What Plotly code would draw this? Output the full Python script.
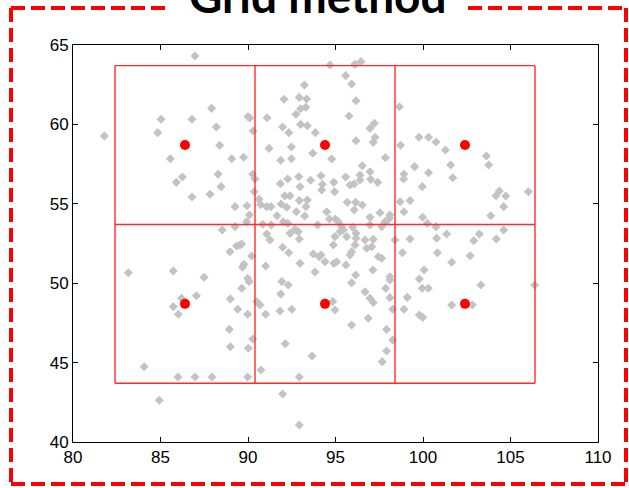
import plotly.graph_objects as go

# ---------------- data ----------------
pts_x = [
    86.97, 94.69, 81.79, 85.03, 84.84, 86.8, 87.92, 88.19, 88.38, 85.56, 89.07, 89.75, 90.0, 90.1, 90.29,
    86.25, 85.9, 88.29, 88.46, 86.8, 87.83, 90.27, 90.4, 89.26, 89.94, 90.63, 90.36, 90.08, 88.53, 89.26,
    89.92, 92.06, 93.22, 92.93, 93.35, 93.01, 93.3, 92.74, 93.01, 93.39, 91.09, 91.98, 92.33, 93.85, 91.2,
    92.48, 91.87, 92.48, 93.7, 94.78, 91.85, 92.27, 92.9, 92.97, 93.58, 94.17, 94.25, 94.21, 94.95, 92.1,
    92.4, 92.93, 93.39, 93.31, 90.72, 91.07, 91.31, 91.89, 92.21, 92.76, 93.24, 94.5, 94.65, 94.99, 91.66,
    93.98, 90.84, 91.33, 92.02, 92.27, 91.07, 91.26, 92.4, 92.69, 92.87, 92.93, 94.97, 94.9,
    96.46, 96.11, 95.58, 95.92, 96.17, 95.77, 98.65, 97.22, 96.97, 97.26, 97.16, 96.17, 99.77, 100.32, 100.74,
    101.28, 98.72, 97.85, 96.53, 96.97, 95.58, 96.4, 96.4, 97.01, 97.41, 95.83, 96.06, 98.91, 98.89, 99.52,
    100.32, 101.7, 101.58, 103.62, 103.75, 99.96, 104.17, 104.36, 104.73, 104.61, 106.02, 103.87, 95.67, 96.15, 96.53,
    96.07, 98.69, 99.26, 98.91, 98.11, 98.07, 97.54, 96.97, 97.96, 97.83, 99.98, 100.25, 100.74, 101.35, 103.22,
    104.61, 104.19, 99.26, 100.78, 95.16, 95.35, 95.45, 95.26, 95.64, 96.17, 96.17, 96.69, 97.16, 97.64, 96.97,
    95.98,
    88.97, 89.54, 89.64, 89.35, 90.21, 91.98, 92.33, 92.97, 91.01, 89.69, 89.77, 93.83, 93.73, 94.07, 94.4,
    94.17, 94.88, 94.91, 83.16, 85.73, 87.49, 89.98, 90.06, 89.64, 91.93, 92.3, 91.87, 87.05, 86.21, 85.73,
    86.02, 88.99, 89.41, 89.98, 90.5, 90.69, 91.01, 91.83, 92.5, 94.84, 94.97, 88.93, 88.99, 90.02, 90.27,
    92.13, 93.66, 90.74, 84.07, 86.0, 86.97, 87.94, 89.98, 92.93, 84.93, 91.98, 92.93,
    96.11, 95.92, 95.83, 95.07, 95.6, 96.78, 97.07, 97.45, 97.64, 97.13, 96.15, 95.92, 96.69, 96.97, 97.16,
    96.87, 95.92, 98.11, 98.11, 97.87, 98.11, 98.27, 97.92, 98.27, 97.92, 97.67, 98.4, 98.82, 100.06, 99.79,
    99.96, 100.3, 99.1, 98.91, 99.79, 99.98, 100.82, 101.64, 102.69, 102.9, 103.31, 101.64, 102.82, 106.38,
]
pts_y = [
    64.31, 63.74, 59.27, 60.32, 59.48, 60.32, 61.01, 59.84, 58.68, 57.84, 57.84, 57.93, 60.49, 60.4, 59.58,
    56.69, 56.35, 56.86, 56.08, 55.43, 55.6, 56.86, 56.56, 54.82, 54.88, 55.28, 55.76, 54.29, 53.35, 53.56,
    53.87, 61.58, 62.48, 61.7, 61.6, 60.99, 61.08, 60.64, 60.0, 59.92, 60.42, 59.84, 59.48, 59.48, 58.49,
    58.58, 57.74, 57.84, 58.18, 57.82, 56.27, 56.56, 56.71, 56.08, 56.48, 56.77, 56.23, 55.87, 55.76, 55.5,
    55.5, 55.2, 55.24, 54.82, 54.94, 54.82, 54.82, 54.99, 54.78, 54.5, 54.23, 54.5, 54.04, 54.04, 54.25,
    53.67, 53.71, 53.67, 53.87, 53.77, 53.1, 52.72, 53.14, 53.39, 53.24, 52.78, 52.93, 56.35,
    63.95, 63.78, 63.07, 62.54, 61.49, 60.53, 61.11, 60.07, 59.75, 59.19, 58.87, 58.97, 59.19, 59.19, 58.89,
    58.39, 58.68, 57.9, 57.4, 57.02, 56.69, 56.81, 56.5, 56.54, 56.35, 56.18, 56.25, 56.88, 56.56, 57.34,
    56.96, 56.64, 57.44, 58.01, 57.44, 56.08, 55.51, 55.81, 55.49, 54.82, 55.76, 54.25, 55.09, 55.09, 54.92,
    54.61, 55.13, 55.2, 54.5, 54.29, 54.09, 54.44, 54.15, 53.94, 53.87, 54.15, 53.77, 53.56, 53.1, 53.1,
    53.35, 52.78, 52.78, 52.83, 53.87, 53.56, 53.35, 53.24, 52.93, 53.14, 52.83, 52.72, 52.76, 53.56, 53.67,
    53.52,
    51.98, 52.41, 52.47, 52.34, 51.71, 52.26, 51.92, 51.25, 51.08, 51.0, 51.19, 50.71, 51.84, 51.67, 51.35,
    51.78, 52.41, 51.25, 50.66, 50.77, 50.37, 50.31, 50.1, 49.68, 50.1, 49.89, 49.32, 49.21, 49.05, 48.52,
    48.04, 49.01, 48.36, 48.04, 48.84, 48.63, 48.04, 48.25, 48.36, 48.84, 48.31, 47.09, 46.0, 45.9, 46.49,
    46.19, 45.42, 44.53, 44.74, 44.09, 44.09, 44.09, 44.09, 44.09, 42.63, 43.02, 41.07,
    52.41, 51.98, 51.78, 51.35, 51.15, 52.2, 52.3, 51.67, 51.57, 50.83, 50.52, 50.03, 49.46, 49.05, 48.78,
    47.79, 47.37, 50.2, 50.41, 49.68, 49.09, 48.36, 47.09, 46.42, 45.73, 45.06, 52.72, 51.92, 50.83, 50.26,
    49.68, 49.68, 49.11, 48.36, 48.0, 47.85, 51.92, 51.32, 51.73, 52.68, 49.89, 48.63, 48.63, 49.89,
]

grid_x_edges = [82.4, 90.4, 98.4, 106.4]
grid_y_edges = [43.7, 53.7, 63.7]
center_x = [86.4, 94.4, 102.4]
center_y = [48.7, 58.7]

x_ticks = [80, 85, 90, 95, 100, 105, 110]
y_ticks = [40, 45, 50, 55, 60, 65]
title_text = "Grid method"

# ---------------- figure ----------------
fig = go.Figure()

fig.add_trace(go.Scatter(
    x=pts_x, y=pts_y, mode="markers",
    marker=dict(symbol="diamond", size=7, color="#c3c3c3", line=dict(width=0)),
    showlegend=False, hoverinfo="skip"))

# grid lines (vertical then horizontal)
gx, gy = [], []
for xe in grid_x_edges:
    gx += [xe, xe, None]
    gy += [grid_y_edges[0], grid_y_edges[-1], None]
for ye in grid_y_edges:
    gx += [grid_x_edges[0], grid_x_edges[-1], None]
    gy += [ye, ye, None]
fig.add_trace(go.Scatter(x=gx, y=gy, mode="lines",
                         line=dict(color="#ff2a2a", width=1.4),
                         showlegend=False, hoverinfo="skip"))

cx = [x for y in center_y for x in center_x]
cy = [y for y in center_y for x in center_x]
fig.add_trace(go.Scatter(
    x=cx, y=cy, mode="markers",
    marker=dict(symbol="circle", size=10, color="#ff0000", line=dict(width=0)),
    showlegend=False, hoverinfo="skip"))

L, R, T, B = 73, 31, 45, 46
W, H = 629, 488
pw, ph = W - L - R, H - T - B


def px2paper_x(px):
    return (px - L) / pw


def px2paper_y(py):
    return (H - B - py) / ph


# red dashed frame
red_dash = dict(color="#ff0000", width=4, dash="14px,6px")
frame_left, frame_right, frame_top, frame_bottom = 11, 626, 8, 484
gap_l, gap_r = 168, 468
segs = [
    (frame_left, frame_top, gap_l, frame_top),
    (gap_r, frame_top, frame_right, frame_top),
    (frame_left, frame_top, frame_left, frame_bottom),
    (frame_right, frame_top, frame_right, frame_bottom),
    (frame_left, frame_bottom, frame_right, frame_bottom),
]
for x0, y0, x1, y1 in segs:
    fig.add_shape(type="line", xref="paper", yref="paper",
                  x0=px2paper_x(x0), y0=px2paper_y(y0),
                  x1=px2paper_x(x1), y1=px2paper_y(y1),
                  line=red_dash, layer="above")

fig.add_annotation(text="<b>" + title_text + "</b>", xref="paper", yref="paper",
                   x=px2paper_x(318), y=px2paper_y(-5), xanchor="center", yanchor="middle",
                   showarrow=False, font=dict(family="Lato", size=46, color="black"))

axis_common = dict(showgrid=False, zeroline=False, showline=True, linecolor="black",
                   linewidth=1, mirror="ticks", ticks="inside", ticklen=5, tickcolor="black",
                   tickfont=dict(family="Liberation Sans", size=17, color="black"))
fig.update_xaxes(range=[80, 110], tickvals=x_ticks, **axis_common)
fig.update_yaxes(range=[40, 65], tickvals=y_ticks, **axis_common)

fig.update_layout(width=W, height=H, margin=dict(l=L, r=R, t=T, b=B, pad=0),
                  paper_bgcolor="white", plot_bgcolor="white")

fig.write_html("out.html")
